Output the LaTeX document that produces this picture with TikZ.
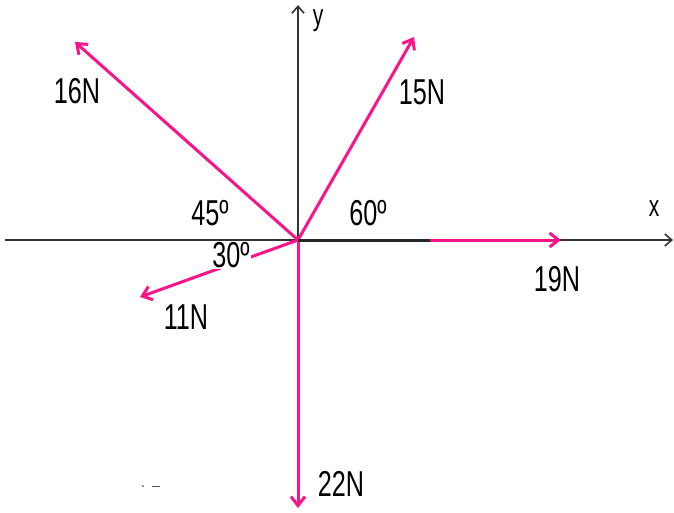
\documentclass[tikz,border=0pt]{standalone}
\usepackage{fontspec}
\setmainfont{Liberation Sans}[FakeStretch=0.7]
\usepackage{tikz}
\usetikzlibrary{arrows.meta}
\definecolor{forcepink}{RGB}{250,20,135}

\begin{document}
\begin{tikzpicture}[x=1pt, y=-1pt,
  every node/.style={font=\fontsize{36}{40}\selectfont, inner sep=0pt},
  force/.style={forcepink, line width=3pt, -{Straight Barb[length=9pt, width=14pt]}},
  axis/.style={black!80, line width=1.6pt, -{Straight Barb[length=7pt, width=12pt]}},
  axislabel/.style={font=\fontsize{30}{34}\selectfont}]
\useasboundingbox (0,0) rectangle (674,512);
% Points
\coordinate (O) at (298,240);
\coordinate (xl) at (5,240);
\coordinate (xr) at (673,240);
\coordinate (yt) at (298,5);
\coordinate (xm) at (430,240);
\coordinate (f15) at (414,37);
\coordinate (f16) at (75,42);
\coordinate (f11) at (140,297);
\coordinate (f19) at (561,240);
\coordinate (f22) at (298,508);
% Axis
\draw[axis] (xl) -- (xr);
\draw[axis] (O) -- (yt);
\node[axislabel] (xlab) at (654,209) {x};
\node[axislabel] (ylab) at (318,21) {y};
% Forces
\draw[force] (O) -- (f15);
\draw[force] (O) -- (f16);
\draw[force] (O) -- (f11);
\draw[force] (O) -- (f19);
\draw[force] (O) -- (f22);
\draw[black!85, line width=3pt] (O) -- (xm);
% Force labels
\node (l15) at (422,92) {15N};
\node (l16) at (77,91) {16N};
\node (l11) at (186,317) {11N};
\node (l19) at (557,279) {19N};
\node (l22) at (341,484) {22N};
% Angles
\node (a45) at (210,213) {45º};
\node (a60) at (368,213) {60º};
\node[fill=white, inner sep=1pt] (a30) at (231,255) {30º};
% Stray mark
\fill[black!70] (143,486) circle (1pt);
\draw[black!70, line width=1pt] (152,486) -- (160,486);
\end{tikzpicture}
\end{document}
